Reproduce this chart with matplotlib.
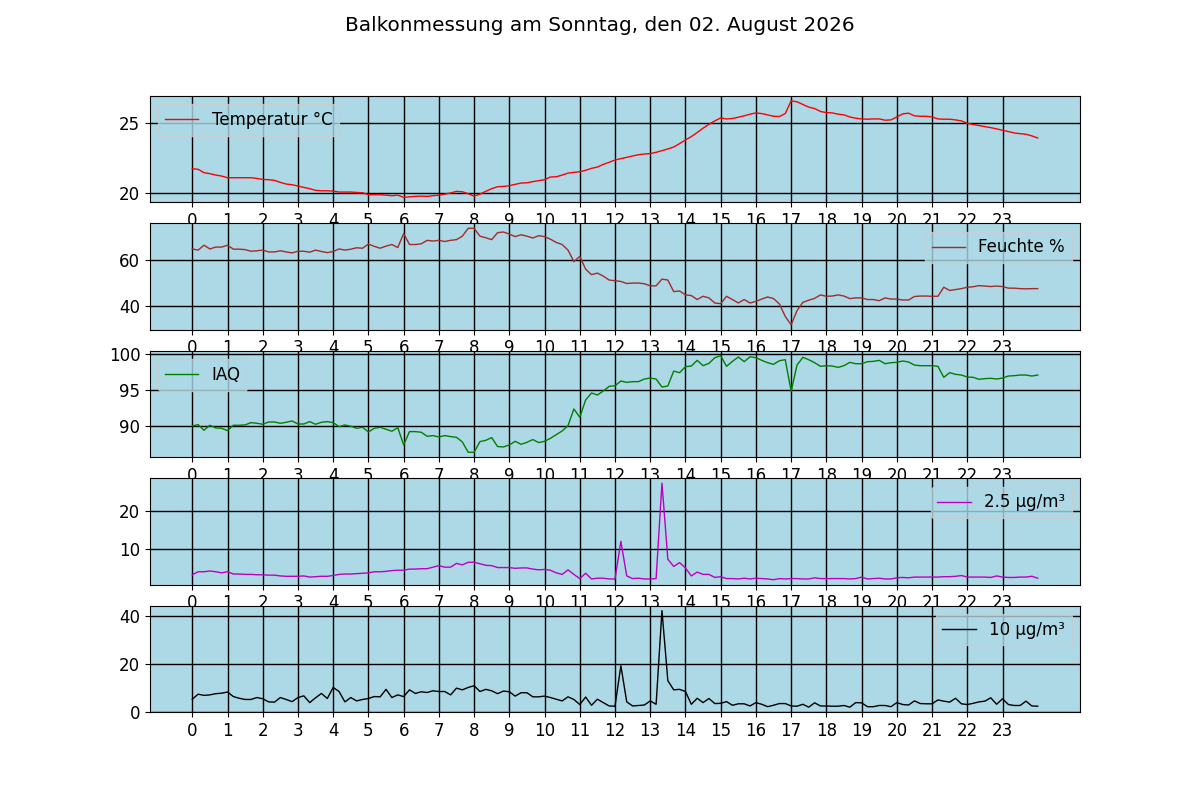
import numpy as np
import matplotlib
matplotlib.use('Agg')
import matplotlib.pyplot as plt

plt.rcParams['font.size'] = 12
plt.rcParams['axes.facecolor'] = 'lightblue'

title = 'Balkonmessung am Sonntag, den 02. August 2026'

# one reading every 10 minutes, 00:00 .. 24:00
hours = np.arange(145) / 6
hour_ticks = list(range(24))

temperatur = [
    21.71, 21.67, 21.43, 21.36, 21.26, 21.19,
    21.07, 21.07, 21.07, 21.07, 21.07, 21.02,
    20.95, 20.93, 20.88, 20.74, 20.62, 20.57,
    20.48, 20.38, 20.29, 20.17, 20.14, 20.14,
    20.12, 20.05, 20.05, 20.05, 20.02, 20.00,
    19.86, 19.86, 19.86, 19.83, 19.79, 19.83,
    19.67, 19.71, 19.74, 19.76, 19.74, 19.79,
    19.83, 19.90, 19.98, 20.10, 20.07, 19.93,
    19.76, 19.90, 20.10, 20.29, 20.43, 20.45,
    20.50, 20.60, 20.69, 20.71, 20.79, 20.86,
    20.93, 21.12, 21.14, 21.26, 21.40, 21.45,
    21.50, 21.60, 21.74, 21.83, 22.02, 22.17,
    22.33, 22.43, 22.52, 22.62, 22.71, 22.76,
    22.79, 22.88, 23.00, 23.12, 23.26, 23.50,
    23.76, 24.00, 24.29, 24.60, 24.88, 25.12,
    25.33, 25.26, 25.29, 25.38, 25.48, 25.60,
    25.69, 25.64, 25.55, 25.45, 25.43, 25.64,
    26.55, 26.48, 26.29, 26.10, 26.00, 25.79,
    25.71, 25.69, 25.60, 25.55, 25.40, 25.31,
    25.26, 25.24, 25.26, 25.26, 25.17, 25.19,
    25.40, 25.62, 25.67, 25.48, 25.45, 25.45,
    25.40, 25.26, 25.24, 25.24, 25.19, 25.12,
    24.95, 24.86, 24.79, 24.71, 24.64, 24.55,
    24.45, 24.36, 24.26, 24.21, 24.17, 24.05,
    23.90]

feuchte = [
    64.6, 64.1, 66.2, 64.6, 65.4, 65.4,
    66.2, 64.5, 64.5, 64.3, 63.6, 63.8,
    64.1, 63.3, 63.3, 63.8, 63.3, 62.9,
    63.6, 63.6, 63.2, 64.1, 63.5, 63.0,
    63.5, 64.6, 64.1, 64.5, 65.1, 64.9,
    66.7, 65.7, 64.9, 65.8, 66.5, 65.2,
    71.2, 66.5, 66.5, 66.8, 68.3, 68.0,
    68.3, 67.8, 68.3, 68.6, 70.1, 73.5,
    73.5, 70.1, 69.4, 68.6, 71.6, 71.9,
    71.0, 69.9, 70.7, 70.1, 69.3, 70.3,
    69.9, 68.8, 67.4, 66.5, 64.1, 59.1,
    61.4, 55.9, 53.5, 54.2, 52.9, 51.2,
    50.9, 50.6, 49.7, 49.9, 49.9, 49.6,
    48.7, 48.7, 51.6, 51.2, 46.2, 46.5,
    44.8, 44.5, 42.8, 44.2, 43.5, 41.3,
    41.0, 44.2, 42.8, 41.3, 42.8, 41.3,
    42.0, 43.0, 43.9, 43.2, 40.9, 35.5,
    31.9, 38.0, 41.6, 42.5, 43.3, 44.8,
    44.2, 44.3, 44.8, 44.3, 43.2, 43.5,
    43.5, 42.8, 42.8, 42.3, 43.5, 43.0,
    43.0, 42.6, 42.6, 44.1, 44.3, 44.3,
    44.2, 44.2, 48.1, 46.7, 47.1, 47.5,
    48.1, 48.3, 48.8, 48.6, 48.4, 48.6,
    48.4, 47.7, 47.7, 47.5, 47.4, 47.5,
    47.5]

iaq = [
    89.95, 90.14, 89.35, 90.05, 89.67, 89.63,
    89.30, 90.05, 90.05, 90.10, 90.42, 90.33,
    90.19, 90.51, 90.51, 90.33, 90.47, 90.65,
    90.23, 90.23, 90.56, 90.19, 90.47, 90.56,
    90.42, 89.86, 90.09, 89.91, 89.63, 89.77,
    89.11, 89.63, 89.77, 89.49, 89.21, 89.72,
    87.29, 89.16, 89.16, 89.07, 88.50, 88.60,
    88.41, 88.60, 88.46, 88.36, 87.71, 86.26,
    86.26, 87.76, 87.94, 88.32, 87.06, 87.01,
    87.29, 87.80, 87.38, 87.66, 88.04, 87.62,
    87.80, 88.22, 88.74, 89.25, 90.00, 92.34,
    91.17, 93.60, 94.58, 94.30, 94.86, 95.51,
    95.60, 96.26, 96.07, 96.17, 96.17, 96.54,
    96.68, 96.54, 95.42, 95.56, 97.66, 97.43,
    98.27, 98.36, 99.16, 98.41, 98.74, 99.53,
    99.81, 98.32, 99.02, 99.63, 98.97, 99.67,
    99.53, 99.16, 98.83, 98.60, 99.11, 99.25,
    94.81, 98.50, 99.58, 99.25, 98.83, 98.32,
    98.41, 98.36, 98.18, 98.41, 98.88, 98.69,
    98.69, 98.97, 99.02, 99.16, 98.69, 98.83,
    98.88, 99.07, 98.93, 98.50, 98.41, 98.41,
    98.41, 98.32, 96.78, 97.43, 97.20, 97.10,
    96.82, 96.78, 96.50, 96.60, 96.64, 96.54,
    96.68, 96.96, 97.01, 97.10, 97.10, 96.96,
    97.10]

pm25 = [
    3.1, 3.9, 3.9, 4.1, 3.9, 3.6,
    3.9, 3.3, 3.3, 3.2, 3.2, 3.1,
    3.1, 3.0, 3.0, 2.8, 2.7, 2.7,
    2.7, 2.8, 2.5, 2.6, 2.7, 2.7,
    2.9, 3.2, 3.3, 3.3, 3.4, 3.5,
    3.6, 3.9, 3.9, 4.0, 4.2, 4.3,
    4.3, 4.6, 4.6, 4.7, 4.7, 5.1,
    5.5, 5.1, 5.1, 6.1, 5.7, 6.4,
    6.4, 6.0, 5.6, 5.5, 5.0, 5.0,
    5.0, 4.8, 4.9, 4.9, 4.6, 4.4,
    4.5, 4.3, 3.6, 3.2, 4.4, 3.2,
    2.1, 3.5, 2.0, 2.2, 2.2, 2.0,
    2.0, 11.9, 2.8, 2.1, 2.2, 2.0,
    2.0, 2.1, 27.2, 7.2, 5.3, 6.3,
    4.9, 2.8, 3.8, 3.2, 3.2, 2.4,
    2.6, 2.1, 2.1, 2.0, 2.2, 2.0,
    2.2, 2.1, 2.0, 1.8, 2.1, 2.0,
    2.1, 2.1, 2.0, 2.0, 2.3, 2.1,
    2.1, 2.1, 2.1, 2.1, 2.0, 2.1,
    2.5, 2.0, 2.1, 2.2, 2.0, 2.0,
    2.3, 2.4, 2.3, 2.5, 2.5, 2.5,
    2.5, 2.5, 2.6, 2.6, 2.7, 2.9,
    2.5, 2.5, 2.5, 2.5, 2.4, 2.8,
    2.5, 2.4, 2.4, 2.5, 2.5, 2.7,
    2.2]

pm10 = [
    5.3, 7.4, 6.9, 7.1, 7.6, 7.8,
    8.3, 6.4, 5.7, 5.2, 5.2, 6.0,
    5.5, 4.2, 4.1, 6.0, 5.2, 4.3,
    6.0, 6.7, 3.9, 5.9, 7.7, 5.6,
    10.2, 8.5, 4.2, 6.0, 4.6, 5.2,
    5.6, 6.4, 6.3, 9.4, 6.0, 7.1,
    6.4, 9.2, 7.7, 8.4, 8.1, 8.8,
    8.5, 8.5, 7.1, 9.9, 9.2, 10.2,
    10.9, 8.5, 9.4, 8.8, 7.6, 8.7,
    8.4, 6.6, 8.0, 8.0, 6.3, 6.3,
    6.6, 6.0, 5.3, 4.6, 6.3, 5.2,
    3.1, 6.2, 2.8, 5.3, 3.9, 2.5,
    2.4, 19.2, 4.2, 2.5, 2.7, 2.9,
    4.6, 3.2, 42.1, 13.0, 9.2, 9.4,
    8.5, 3.2, 5.7, 3.9, 5.6, 3.5,
    3.6, 4.3, 2.8, 3.4, 3.4, 2.5,
    3.9, 3.2, 2.2, 2.8, 3.5, 3.5,
    2.5, 2.4, 3.2, 2.0, 3.8, 2.5,
    2.5, 2.4, 2.4, 2.7, 2.0, 3.9,
    3.8, 2.2, 2.2, 2.7, 2.7, 2.2,
    3.9, 3.1, 2.9, 4.6, 3.5, 3.4,
    3.4, 5.0, 4.5, 4.1, 5.7, 3.4,
    3.1, 3.6, 4.2, 4.5, 5.9, 3.2,
    5.5, 3.1, 2.7, 2.7, 4.5, 2.5,
    2.4]

panels = [
    (temperatur, 'Temperatur °C', 'red', [20, 25], 'upper left'),
    (feuchte, 'Feuchte %', 'brown', [40, 60], 'upper right'),
    (iaq, 'IAQ', 'green', [90, 95, 100], 'upper left'),
    (pm25, '2.5 µg/m³', 'm', [10, 20], 'upper right'),
    (pm10, '10 µg/m³', 'black', [0, 20, 40], 'upper right'),
]


def plot_panel(ax, values, label, colour, yticks, legend_loc):
    '''
    draws one measurement series against the time of day on a light blue
    panel with a black hour grid
    '''
    ax.plot(
        hours,
        values,
        color=colour,
        linewidth=1,
        label=label)
    ax.set_xticks(hour_ticks)
    ax.set_yticks(yticks)
    ax.grid(
        True,
        color='black',
        linewidth=1)
    ax.legend(loc=legend_loc)


fig, axes = plt.subplots(
    5,
    1,
    figsize=[12, 8])
for ax, (values, label, colour, yticks, loc) in zip(axes, panels):
    plot_panel(ax, values, label, colour, yticks, loc)
fig.suptitle(title)
plt.savefig('out.png', dpi=100)
plt.close(fig)
